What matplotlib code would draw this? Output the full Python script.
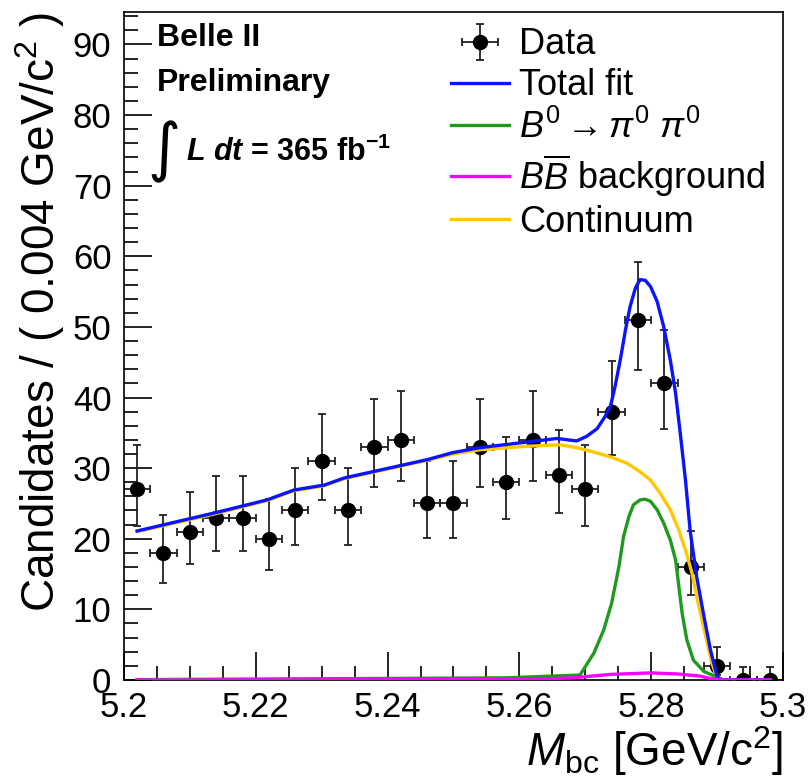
import numpy as np
import matplotlib.pyplot as plt
from matplotlib.lines import Line2D
from matplotlib.ticker import MultipleLocator

plt.rcParams['font.family'] = ['Liberation Sans', 'DejaVu Sans']
plt.rcParams['mathtext.fontset'] = 'custom'
plt.rcParams['mathtext.rm'] = 'Liberation Sans'
plt.rcParams['mathtext.it'] = 'Liberation Sans:italic'
plt.rcParams['mathtext.bf'] = 'Liberation Sans:bold'
plt.rcParams['mathtext.bfit'] = 'Liberation Sans:bold:italic'

# datos (centros de bin, 0.004 GeV/c2)
mbc = [5.202, 5.206, 5.210, 5.214, 5.218, 5.222, 5.226, 5.230, 5.234, 5.238,
       5.242, 5.246, 5.250, 5.254, 5.258, 5.262, 5.266, 5.270, 5.274, 5.278,
       5.282, 5.286, 5.290, 5.294, 5.298]
counts = [27, 18, 21, 23, 23, 20, 24, 31, 24, 33,
          34, 25, 25, 33, 28, 34, 29, 27, 38, 51,
          42, 16, 2, 0, 0]
err_lo = [5.16, 4.20, 4.54, 4.76, 4.76, 4.43, 4.86, 5.53, 4.86, 5.71,
          5.80, 4.96, 4.96, 5.71, 5.26, 5.80, 5.35, 5.16, 6.14, 7.12,
          6.45, 3.95, 1.29, 0.0, 0.0]
err_hi = [6.27, 5.33, 5.66, 5.87, 5.87, 5.56, 5.97, 6.63, 5.97, 6.81,
          6.89, 6.07, 6.07, 6.81, 6.36, 6.89, 6.45, 6.27, 7.22, 8.19,
          7.54, 5.09, 2.64, 1.84, 1.84]

# curvas del ajuste
tot_x = [5.202, 5.2137, 5.2217, 5.2258, 5.2304, 5.2334, 5.2460, 5.2499, 5.2540,
         5.2612, 5.2657, 5.2687, 5.2702, 5.2718, 5.2730, 5.2738, 5.2745, 5.2753,
         5.2761, 5.2768, 5.2776, 5.2783, 5.2791, 5.2799, 5.2809, 5.2819, 5.2829,
         5.2837, 5.2844, 5.2852, 5.2859, 5.2869, 5.2880, 5.2890, 5.2900, 5.2905, 5.298]
tot_y = [21.1, 23.65, 25.5, 26.9, 27.6, 28.6, 31.2, 32.2, 32.9,
         33.7, 34.2, 33.85, 34.5, 35.6, 37.3, 38.7, 41.5, 45.3,
         49.6, 52.9, 55.5, 56.7, 56.6, 55.7, 53.6, 50.0, 45.3,
         40.6, 35.0, 28.3, 21.2, 14.6, 9.0, 4.2, 0.5, 0.0, 0.0]

cont_x = [5.202, 5.2137, 5.2217, 5.2258, 5.2304, 5.2334, 5.2460, 5.2499, 5.2540,
          5.2612, 5.2662, 5.2687, 5.2712, 5.2738, 5.2763, 5.2783, 5.2799, 5.2814,
          5.2829, 5.2842, 5.2852, 5.2862, 5.2869, 5.2877, 5.2885, 5.2892, 5.2899,
          5.2905, 5.298]
cont_y = [21.0, 23.5, 25.4, 26.8, 27.5, 28.5, 31.1, 32.0, 32.6,
          33.1, 33.3, 32.9, 32.3, 31.6, 30.7, 29.5, 28.3, 26.4,
          24.1, 21.2, 18.4, 15.1, 11.8, 8.5, 5.2, 2.4, 0.5,
          0.0, 0.0]

sig_x = [5.202, 5.258, 5.2692, 5.2713, 5.2728, 5.2740, 5.2751, 5.2758, 5.2766,
         5.2773, 5.2783, 5.2791, 5.2799, 5.2809, 5.2819, 5.2829, 5.2837, 5.2842,
         5.2847, 5.2854, 5.2864, 5.2880, 5.2895, 5.2910, 5.298]
sig_y = [0.05, 0.3, 0.7, 3.8, 7.1, 10.9, 16.05, 20.3, 23.1,
         24.8, 25.5, 25.6, 25.3, 24.1, 22.2, 19.8, 17.0, 13.2,
         9.4, 5.7, 2.8, 1.2, 0.6, 0.0, 0.0]

bb_x = [5.202, 5.260, 5.268, 5.274, 5.280, 5.284, 5.2874, 5.289, 5.291, 5.298]
bb_y = [0.0, 0.05, 0.3, 0.8, 1.0, 0.85, 0.55, 0.2, 0.0, 0.0]

fig = plt.figure(figsize=(8.1, 7.84), dpi=100)
ax = fig.add_axes([0.153, 0.1327, 0.8137, 0.852])

data = ax.errorbar(mbc, counts, yerr=[err_lo, err_hi], xerr=0.002, fmt='o', color='black',
                   ecolor='#222222', ms=10, elinewidth=1.3, capsize=3, capthick=1.3,
                   zorder=2, label='Data')
ax.plot(cont_x, cont_y, color='#ffc800', lw=2.4, zorder=3, solid_joinstyle='round')
ax.plot(sig_x, sig_y, color='#1f9a1f', lw=2.4, zorder=3.1, solid_joinstyle='round')
ax.plot(tot_x, tot_y, color='#0a14ff', lw=2.4, zorder=3.2, solid_joinstyle='round')
ax.plot(bb_x, bb_y, color='#ff00ff', lw=2.4, zorder=3.3, solid_joinstyle='round')

ax.set_xlim(5.2, 5.3)
ax.set_ylim(0, 94.6)
ax.xaxis.set_minor_locator(MultipleLocator(0.005))
ax.yaxis.set_major_locator(MultipleLocator(10))
ax.yaxis.set_minor_locator(MultipleLocator(2))
ax.set_xticks([5.2, 5.22, 5.24, 5.26, 5.28, 5.3])
ax.set_xticklabels(['5.2', '5.22', '5.24', '5.26', '5.28', '5.3'])
ax.tick_params(which='both', direction='in', top=False, right=False, width=1.2, labelsize=25)
ax.tick_params(which='major', length=20)
ax.tick_params(which='minor', length=10)
ax.tick_params(axis='x', pad=8)
ax.tick_params(axis='y', pad=9)
for s in ax.spines.values():
    s.set_linewidth(1.2)

ax.set_ylabel('Candidates / ( 0.004 GeV/c$^{2}$ )', loc='top', fontsize=33, labelpad=4)
ax.set_xlabel(r'$M_{\rm bc}$ [GeV/c$^{2}$]', loc='right', fontsize=33, labelpad=0)

# textos Belle II
ax.text(0.05, 0.961, 'Belle II', transform=ax.transAxes, fontsize=23, fontweight='bold', va='center')
ax.text(0.05, 0.894, 'Preliminary', transform=ax.transAxes, fontsize=23, fontweight='bold', va='center')
ax.text(0.036, 0.79, '\u222B', transform=ax.transAxes, fontsize=46, family='DejaVu Sans',
        va='center')
ax.text(0.094, 0.79, r'$\mathbfit{L\ dt}$ = 365 fb$^{\mathbf{-1}}$', transform=ax.transAxes,
        fontsize=22, fontweight='bold', va='center')

handles = [data,
           Line2D([], [], color='#0a14ff', lw=2.4),
           Line2D([], [], color='#1f9a1f', lw=2.4),
           Line2D([], [], color='#ff00ff', lw=2.4),
           Line2D([], [], color='#ffc800', lw=2.4)]
labels = ['Data', 'Total fit', r'$B^{0} \rightarrow \pi^{0}\ \pi^{0}$',
          r'$B\overline{B}$ background', 'Continuum']
ax.legend(handles, labels, loc='upper left', bbox_to_anchor=(0.496, 0.977), frameon=False,
          fontsize=26, handlelength=1.6, handletextpad=0.3, labelspacing=0.17,
          borderpad=0, borderaxespad=0)

fig.savefig('out.png', dpi=100)
